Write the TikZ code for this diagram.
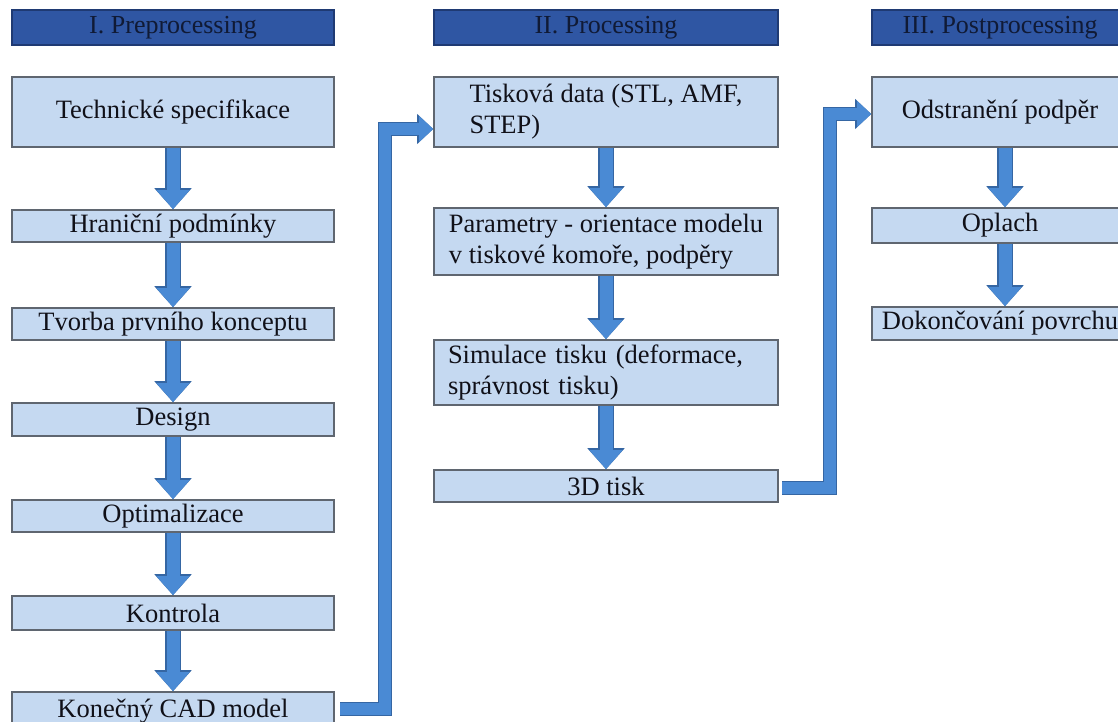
\documentclass[tikz,border=0pt]{standalone}
\usepackage{fontspec}
\setmainfont{Liberation Serif}
\usetikzlibrary{arrows.meta}
\definecolor{boxfill}{HTML}{C5D9F1}
\definecolor{boxedge}{HTML}{5F6670}
\definecolor{hdrfill}{HTML}{2F56A3}
\definecolor{hdredge}{HTML}{1F3A73}
\definecolor{hdrtext}{HTML}{101A35}
\definecolor{arrfill}{HTML}{4A8AD4}
\definecolor{arredge}{HTML}{3566A3}
\definecolor{txt}{HTML}{101018}
\begin{document}
\begin{tikzpicture}[x=1pt,y=-1pt,
  box/.style={draw=boxedge, line width=1.6pt, fill=boxfill, inner sep=0pt,
    font=\fontsize{26.5}{31}\selectfont, text=txt},
  hdr/.style={draw=hdredge, line width=1.2pt, fill=hdrfill, inner sep=0pt,
    minimum height=35pt, font=\fontsize{26}{30}\selectfont, text=hdrtext},
  blockarrow/.style={draw=arrfill, line width=13pt, line join=miter,
    -{Triangle[width=32pt,length=19pt]},
    preaction={draw=arredge, line width=15.5pt, -{Triangle[width=36pt,length=21pt]}}},
  elbowarrow/.style={draw=arrfill, line width=12pt, line join=miter,
    -{Triangle[width=25pt,length=14pt]},
    preaction={draw=arredge, line width=14.5pt, -{Triangle[width=29pt,length=16pt]}}},
]
\useasboundingbox (0,0) rectangle (1118,722);
\fill[white] (0,0) rectangle (1118,722);

% headers
\node[hdr, minimum width=322pt] (h1) at (173,27.5) {I. Preprocessing};
\node[hdr, minimum width=344pt] (h2) at (606,27.5) {II. Processing};
\node[hdr, minimum width=256pt] (h3) at (1000,27.5) {III. Postprocessing};

% column 1
\node[box, minimum width=322pt, minimum height=70pt] (ts) at (173,112) {Technické specifikace};
\node[box, minimum width=322pt, minimum height=32pt] (hp) at (173,226) {Hraniční podmínky};
\node[box, minimum width=322pt, minimum height=32pt] (tpk) at (173,324) {Tvorba prvního konceptu};
\node[box, minimum width=322pt, minimum height=33pt] (des) at (173,419.5) {Design};
\node[box, minimum width=322pt, minimum height=32pt] (opt) at (173,516) {Optimalizace};
\node[box, minimum width=322pt, minimum height=34pt] (kon) at (173,613) {Kontrola};
\node[box, minimum width=322pt, minimum height=38pt] (kcad) at (173,711) {Konečný CAD model};

% column 2
\node[box, minimum width=344pt, minimum height=70pt, align=left] (td) at (606,112) {Tisková data (STL, AMF,\\STEP)};
\node[box, minimum width=344pt, minimum height=67pt, align=left] (par) at (606,241.5) {Parametry - orientace modelu\\v tiskové komoře, podpěry};
\node[box, minimum width=344pt, minimum height=65pt, text width=316pt, inner xsep=14pt, align=left] (sim) at (606,372.5) {Simulace tisku (deformace,\\správnost tisku)};
\node[box, minimum width=344pt, minimum height=32pt] (tisk) at (606,486) {3D tisk};

% column 3
\node[box, minimum width=256pt, minimum height=70pt] (odp) at (1000,112) {Odstranění podpěr};
\node[box, minimum width=256pt, minimum height=35pt] (opl) at (1000,225.5) {Oplach};
\node[box, minimum width=256pt, minimum height=33pt] (dok) at (1000,323.5) {Dokončování povrchu};

% vertical arrows
\draw[blockarrow] (ts) -- (hp);
\draw[blockarrow] (hp) -- (tpk);
\draw[blockarrow] (tpk) -- (des);
\draw[blockarrow] (des) -- (opt);
\draw[blockarrow] (opt) -- (kon);
\draw[blockarrow] (kon) -- (kcad);
\draw[blockarrow] (td) -- (par);
\draw[blockarrow] (par) -- (sim);
\draw[blockarrow] (sim) -- (tisk);
\draw[blockarrow] ([xshift=5pt]odp.south) -- ([xshift=5pt]opl.north);
\draw[blockarrow] ([xshift=5pt]opl.south) -- ([xshift=5pt]dok.north);

% elbow connectors
\coordinate (e1s) at (340,709);
\coordinate (e1a) at (385,709);
\coordinate (e1b) at (385,129);
\draw[elbowarrow] (e1s) -- (e1a) -- (e1b) -- (td.west |- e1b);
\coordinate (e2s) at (782,488);
\coordinate (e2a) at (830,488);
\coordinate (e2b) at (830,114);
\draw[elbowarrow] (e2s) -- (e2a) -- (e2b) -- (odp.west |- e2b);
\end{tikzpicture}
\end{document}
